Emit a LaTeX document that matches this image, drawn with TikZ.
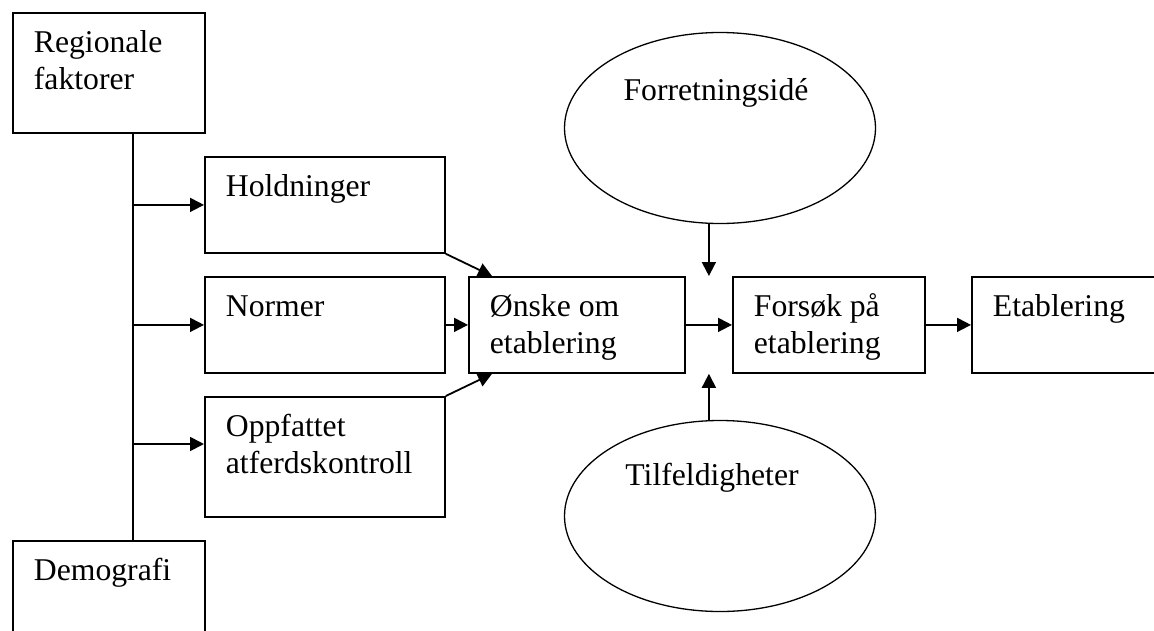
\documentclass[tikz,border=0pt]{standalone}
\usepackage{fontspec}
\setmainfont{Liberation Serif}
\usetikzlibrary{arrows.meta,calc,shapes.geometric}
\newcommand\bt[3]{\parbox[c][#2][t]{#1}{\leftskip=21pt\parindent=0pt\rightskip=0pt plus 1fil\rule{0pt}{40pt}#3}}
\tikzset{
  every node/.style={font=\fontsize{31.7pt}{37pt}\selectfont},
  box/.style={draw, rectangle, line width=1.8pt, inner sep=0pt, anchor=north west},
  ell/.style={draw, ellipse, line width=1.3pt, inner sep=0pt, minimum width=311pt, minimum height=191pt},
  ln/.style={line width=1.8pt},
  arr/.style={line width=1.8pt, -{Triangle[length=14pt,width=14pt]}}
}
\begin{document}
\begin{tikzpicture}[x=1pt,y=-1pt]
\useasboundingbox (0,0) rectangle (1154,630);
\node[box] (reg) at (12,12) {\bt{192pt}{120pt}{Regionale\\faktorer}};
\node[box] (demo) at (12,540) {\bt{192pt}{110pt}{Demografi}};
\node[box] (hold) at (204,156) {\bt{240pt}{96pt}{Holdninger}};
\node[box] (norm) at (204,276) {\bt{240pt}{96pt}{Normer}};
\node[box] (opp) at (204,396) {\bt{240pt}{120pt}{Oppfattet\\atferdskontroll}};
\node[box] (on) at (468,276) {\bt{216pt}{96pt}{Ønske om\\etablering}};
\node[box] (fo) at (732,276) {\bt{192pt}{96pt}{Forsøk på\\etablering}};
\node[box] (et) at (971,276) {\bt{194pt}{96pt}{Etablering}};
\node[ell] (idea) at (720,128) {\raisebox{28pt}[0pt][0pt]{\hspace*{-8pt}Forretningsidé}};
\node[ell] (luck) at (720,516) {\raisebox{31pt}[0pt][0pt]{\hspace*{-16pt}Tilfeldigheter}};
\coordinate (sx) at (133,0);
\coordinate (oin) at ($(opp.north west)+(0,48)$);
\coordinate (m) at ($(on.east)!.5!(fo.west)$);
\draw[ln] (reg.south -| sx) -- (demo.north -| sx);
\draw[arr] (hold.west -| sx) -- (hold.west);
\draw[arr] (norm.west -| sx) -- (norm.west);
\draw[arr] (oin -| sx) -- (oin);
\draw[arr] (hold.south east) -- ($(on.north west)+(24,0)$);
\draw[arr] (opp.north east) -- ($(on.south west)+(24,0)$);
\draw[arr] (norm.east) -- (on.west);
\draw[arr] (on.east) -- (fo.west);
\draw[arr] (fo.east) -- (et.west);
\draw[arr] (idea.south -| m) -- (m |- on.north);
\draw[arr] (luck.north -| m) -- (m |- on.south);
\end{tikzpicture}
\end{document}
